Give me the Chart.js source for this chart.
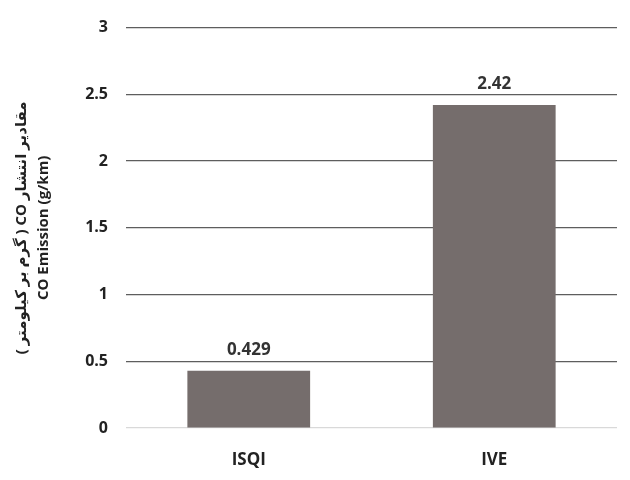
<!DOCTYPE html>
<html>
<head>
<meta charset="utf-8">
<script src="https://cdn.jsdelivr.net/npm/chart.js@4"></script>
<style>
  html, body { margin: 0; padding: 0; background: #fff; }
  #wrap { width: 630px; height: 480px; }
</style>
</head>
<body>
<div id="wrap"><canvas id="chart"></canvas></div>
<script>
(function () {
  'use strict';

  var categories = ['ISQI', 'IVE'];
  var emissions = [0.429, 2.42];
  var valueLabels = ['0.429', '2.42'];
  var yTicks = [0, 0.5, 1, 1.5, 2, 2.5, 3];
  var yTitle = ['\u202Bمقادیر انتشار CO ( گرم بر کیلومتر )\u202C', 'CO Emission (g/km)'];

  var barLabels = {
    id: 'barLabels',
    afterDatasetsDraw: function (chart) {
      var ctx = chart.ctx;
      var meta = chart.getDatasetMeta(0);
      ctx.save();
      ctx.font = 'bold 17px "Open Sans", sans-serif';
      ctx.fillStyle = '#333';
      ctx.textAlign = 'center';
      ctx.textBaseline = 'bottom';
      meta.data.forEach(function (bar, i) {
        ctx.fillText(valueLabels[i], bar.x, bar.y - 12);
      });
      ctx.restore();
    }
  };

  new Chart(document.getElementById('chart'), {
    type: 'bar',
    data: {
      labels: categories,
      datasets: [{
        data: emissions,
        backgroundColor: '#756d6c',
        barPercentage: 0.5,
        categoryPercentage: 1.0
      }]
    },
    options: {
      responsive: true,
      maintainAspectRatio: false,
      animation: false,
      layout: { padding: { top: 17, right: 13, bottom: 0, left: 0 } },
      plugins: {
        legend: { display: false },
        tooltip: { enabled: false }
      },
      scales: {
        x: {
          grid: { display: false },
          border: { display: false },
          afterFit: function (axis) { axis.height = 52; },
          ticks: {
            color: '#222',
            padding: 14,
            font: { family: '"Open Sans", sans-serif', size: 17, weight: 'bold' }
          }
        },
        y: {
          min: 0,
          max: 3,
          afterBuildTicks: function (axis) {
            axis.ticks = yTicks.map(function (v) { return { value: v }; });
          },
          afterFit: function (axis) { axis.width = 126; },
          border: { display: false },
          grid: {
            drawTicks: false,
            lineWidth: 1.2,
            color: function (c) { return c.tick && c.tick.value === 0 ? '#d9d9d9' : '#5e5e5e'; }
          },
          ticks: {
            color: '#222',
            padding: 18,
            font: { family: '"Open Sans", sans-serif', size: 16, weight: 'bold' },
            callback: function (v) { return String(v); }
          },
          title: {
            display: true,
            text: yTitle,
            color: '#222',
            padding: { top: 11, bottom: 0 },
            font: { family: '"Open Sans", "DejaVu Sans", sans-serif', size: 15, weight: 'bold', lineHeight: '22px' }
          }
        }
      }
    },
    plugins: [barLabels]
  });
})();
</script>
</body>
</html>
